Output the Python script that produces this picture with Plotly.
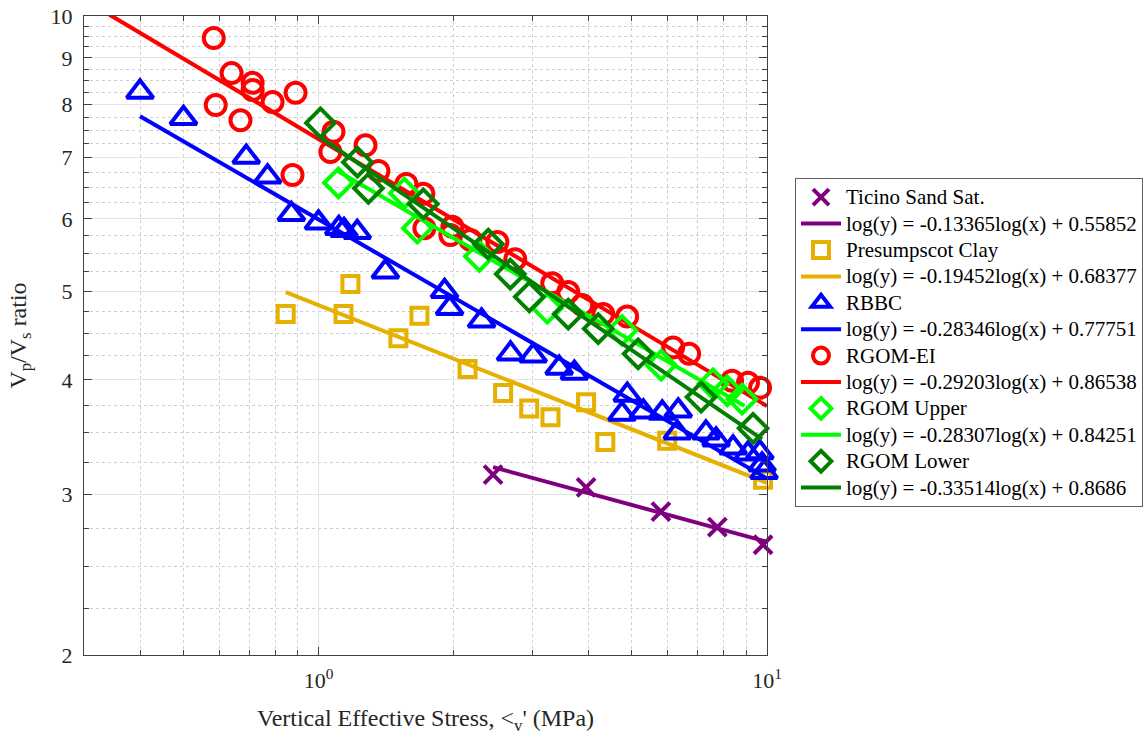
import plotly.graph_objects as go
import numpy as np

# ---------------- data ----------------
ticino_x = [2.45, 3.95, 5.8, 7.75, 9.8]
ticino_y = [3.15, 3.05, 2.87, 2.76, 2.64]

presump_x = [0.845, 1.137, 1.178, 1.507, 1.679, 2.15, 2.58, 2.95, 3.29, 3.95, 4.36, 5.99, 9.8]
presump_y = [4.72, 4.72, 5.09, 4.44, 4.70, 4.11, 3.87, 3.72, 3.64, 3.78, 3.42, 3.43, 3.11]

rbbc_x = [0.40, 0.50, 0.69, 0.77, 0.87, 1.0, 1.11, 1.14, 1.22, 1.41, 1.91, 1.96, 2.31, 2.68,
          3.01, 3.44, 3.72, 4.88, 4.75, 5.30, 5.84, 6.34, 6.31, 7.31, 7.70, 8.40, 9.07, 9.64,
          9.75, 9.85]
rbbc_y = [8.26, 7.73, 7.01, 6.67, 6.07, 5.94, 5.86, 5.83, 5.80, 5.25, 5.00, 4.79, 4.64, 4.27,
          4.25, 4.12, 4.07, 3.85, 3.67, 3.69, 3.68, 3.70, 3.50, 3.50, 3.44, 3.37, 3.32, 3.33,
          3.23, 3.17]

rgomei_x = [0.584, 0.640, 0.713, 0.713, 0.790, 0.889, 0.590, 0.670, 0.875, 1.080, 1.063, 1.273,
            1.360, 1.570, 1.713, 1.722, 1.988, 1.968, 2.181, 2.505, 2.746, 3.320, 3.604, 3.873,
            4.313, 4.877, 6.175, 6.705, 8.36, 9.07, 9.65]
rgomei_y = [9.46, 8.66, 8.45, 8.30, 8.05, 8.24, 7.99, 7.69, 6.70, 7.47, 7.10, 7.22,
            6.77, 6.55, 6.39, 5.86, 5.88, 5.76, 5.69, 5.66, 5.42, 5.10, 4.99, 4.83,
            4.72, 4.69, 4.34, 4.27, 3.99, 3.97, 3.92]

upper_x = [1.108, 1.554, 1.661, 2.284, 3.236, 4.75, 5.81, 7.58, 8.15, 8.80]
upper_y = [6.57, 6.40, 5.86, 5.46, 4.79, 4.53, 4.15, 3.96, 3.89, 3.81]

lower_x = [1.01, 1.221, 1.292, 1.713, 2.391, 2.677, 2.951, 3.604, 4.204, 5.16, 7.13, 9.31]
lower_y = [7.64, 6.92, 6.48, 6.23, 5.63, 5.22, 4.93, 4.72, 4.55, 4.27, 3.83, 3.54]

# fit coefficients: log(y) = a*log(x) + b, drawn between x_start and x_end
fit_names = ["Ticino Sand Sat.", "Presumpscot Clay", "RBBC", "RGOM-EI", "RGOM Upper", "RGOM Lower"]
fit_a = [-0.13365, -0.19452, -0.28346, -0.29203, -0.28307, -0.33514]
fit_b = [0.55852, 0.68377, 0.77751, 0.86538, 0.84251, 0.8686]
fit_b_text = ["0.55852", "0.68377", "0.77751", "0.86538", "0.84251", "0.8686"]
fit_x0 = [2.45, 0.845, 0.40, 0.342, 1.10, 1.0]
fit_x1 = [10.0, 10.0, 10.0, 10.0, 8.9, 9.75]

colors = ["#7F007F", "#E6B000", "#0000FF", "#FF0000", "#00FF00", "#007F00"]
symbols = ["x-thin", "square-open", "triangle-up-open", "circle-open", "diamond-open", "diamond-open"]
sizes = [18, 16, 23, 20, 22, 22]

series_x = [ticino_x, presump_x, rbbc_x, rgomei_x, upper_x, lower_x]
series_y = [ticino_y, presump_y, rbbc_y, rgomei_y, upper_y, lower_y]

y_major = [2, 3, 4, 5, 6, 7, 8, 9, 10]
y_minor = [v + q for v in range(2, 10) for q in (0.25, 0.5, 0.75)]
x_major = [1, 10]
x_major_text = ["10<sup>0</sup>", "10<sup>1</sup>"]
x_minor = [0.3, 0.4, 0.5, 0.6, 0.7, 0.8, 0.9, 2, 3, 4, 5, 6, 7, 8, 9]

FONT = "Liberation Serif"
LEG_SPAN = '<span style="font-size:21px">{}</span>'

fig = go.Figure()
for i in range(6):
    fig.add_trace(go.Scatter(
        x=series_x[i], y=series_y[i], mode="markers", name=LEG_SPAN.format(fit_names[i]),
        cliponaxis=False,
        marker=dict(symbol=symbols[i], size=sizes[i], color=colors[i],
                    line=dict(color=colors[i], width=4)),
    ))
    xs = np.array([fit_x0[i], fit_x1[i]])
    ys = 10 ** (fit_a[i] * np.log10(xs) + fit_b[i])
    fig.add_trace(go.Scatter(
        x=xs, y=ys, mode="lines",
        name=LEG_SPAN.format(f"log(y) = {fit_a[i]:.5f}log(x) + {fit_b_text[i]}"),
        line=dict(color=colors[i], width=4),
    ))

axis_common = dict(
    showline=True, linecolor="#404040", linewidth=1, mirror="ticks",
    ticks="inside", ticklen=8, tickcolor="#404040", automargin=False,
    showgrid=True, gridcolor="#e3e3e3", gridwidth=1, zeroline=False,
    ticklabeloverflow="allow",
    tickfont=dict(family=FONT, size=22, color="#262626"),
)

fig.update_xaxes(
    type="log", range=[np.log10(0.3), 1], tickmode="array",
    tickvals=x_major, ticktext=x_major_text, ticklabelstandoff=6,
    title=dict(text="Vertical Effective Stress, &lt;<sub>v</sub>' (MPa)",
               font=dict(family=FONT, size=24, color="#262626"), standoff=16),
    minor=dict(tickmode="array", tickvals=x_minor, ticks="inside", ticklen=5,
               tickcolor="#404040", showgrid=True, gridcolor="#cfcfcf", griddash="dot"),
    **axis_common,
)
fig.update_yaxes(
    type="log", range=[np.log10(2), 1], tickmode="array",
    tickvals=y_major, ticktext=[str(v) for v in y_major], ticklabelstandoff=6,
    title=dict(text="V<sub>p</sub>/V<sub>s</sub> ratio",
               font=dict(family=FONT, size=24, color="#262626"), standoff=17),
    minor=dict(tickmode="array", tickvals=y_minor, ticks="inside", ticklen=5,
               tickcolor="#404040", showgrid=True, gridcolor="#cfcfcf", griddash="dot"),
    **axis_common,
)

fig.update_layout(
    width=1148, height=738,
    margin=dict(l=84, r=381, t=16, b=83, autoexpand=False),
    paper_bgcolor="white", plot_bgcolor="white",
    font=dict(family=FONT),
    showlegend=True,
    legend=dict(x=1.041, y=0.7465, xanchor="left", yanchor="top",
                font=dict(family=FONT, size=18, color="#000000"),
                bordercolor="#606060", borderwidth=1, bgcolor="white",
                tracegroupgap=0, itemwidth=40),
)

fig.write_html("out.html", config={"displayModeBar": False},
               post_script="document.body.style.margin='0';")
